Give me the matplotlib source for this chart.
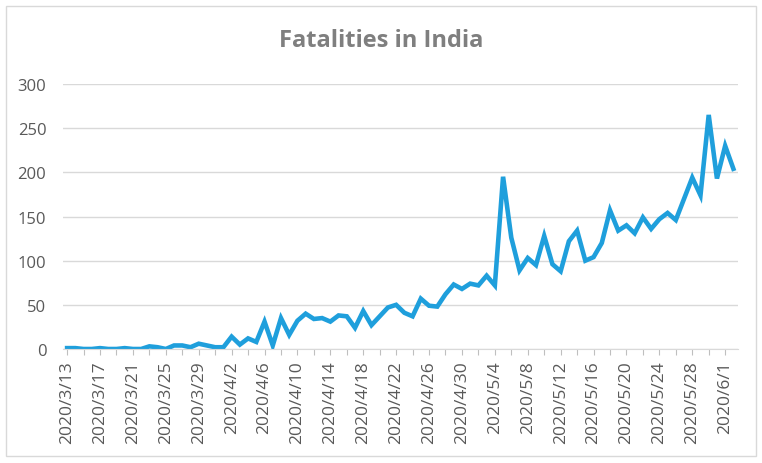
import numpy as np
import pandas as pd
import matplotlib
matplotlib.use("Agg")
import matplotlib.pyplot as plt
from matplotlib.patches import Rectangle

# daily fatalities, 2020/3/13 .. 2020/6/2
dates = pd.date_range("2020-03-13", "2020-06-02", freq="D")
fatalities = [1, 1, 0, 0, 1, 0, 0, 1, 0, 0,
              3, 2, 0, 4, 4, 2, 6, 4, 2, 2,
              14, 5, 12, 8, 31, 4, 35, 16, 32, 40,
              34, 35, 31, 38, 37, 24, 43, 27, 37, 47,
              50, 41, 37, 57, 49, 48, 62, 73, 68, 74,
              72, 83, 72, 195, 126, 89, 103, 95, 128, 96,
              88, 122, 134, 100, 104, 120, 157, 134, 140, 131,
              149, 136, 147, 154, 146, 170, 194, 174, 265, 193,
              230, 204]
tick_labels = [f"{d.year}/{d.month}/{d.day}" for d in dates]

plt.rcParams['font.family'] = ['Open Sans', 'DejaVu Sans']

fig = plt.figure(figsize=(7.62, 4.64), dpi=100)
ax = fig.add_axes([63/762, 114/464, (737.5-63)/762, 265/464])

x = np.arange(len(fatalities))
ax.plot(x, fatalities, color='#1f9fdc', lw=3.3, solid_joinstyle='miter')

ax.set_xlim(-0.5, len(fatalities) - 0.5)
ax.set_ylim(0, 300)
ax.set_yticks(range(0, 301, 50))
ax.grid(axis='y', color='#d9d9d9', lw=1)
ax.set_axisbelow(True)

ax.set_xticks(x[::2])
ax.set_xticklabels([t if i % 2 == 0 else '' for i, t in enumerate(tick_labels[::2])],
                   rotation=90, fontsize=12.5, color='#595959')
ax.tick_params(axis='x', length=4, color='#bfbfbf', pad=4)
ax.tick_params(axis='y', length=0, labelsize=12, labelcolor='#595959', pad=12)

for s in ['top', 'right', 'left']:
    ax.spines[s].set_visible(False)
ax.spines['bottom'].set_color('#d9d9d9')

fig.text(381/762, 1 - 41/464, 'Fatalities in India', ha='center', va='center',
         fontsize=17, fontweight='bold', color='#7f7f7f')

fig.patches.append(Rectangle((6/762, 7/464), 750/762, 450/464, transform=fig.transFigure,
                             fill=False, edgecolor='#d9d9d9', lw=1))

fig.savefig('out.png', dpi=100)
